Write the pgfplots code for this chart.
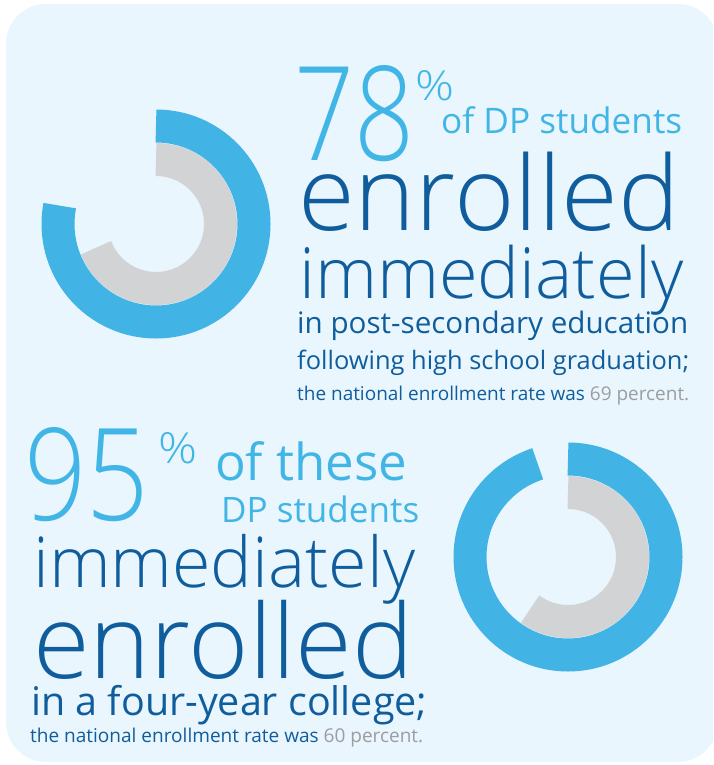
\documentclass[border=0pt]{standalone}
\usepackage{pgfplots}
\pgfplotsset{compat=1.18}
\usepackage{pgfplotstable}
\usepackage{graphicx}
\usepackage{fontspec}
\setmainfont{Open Sans}
\IfFontExistsTF{Open Sans Light}{\newfontfamily\lightfont{Open Sans Light}}{\newfontfamily\lightfont{Open Sans}}

\definecolor{bg}{RGB}{233,246,253}
\definecolor{ringblue}{RGB}{65,180,229}
\definecolor{ringgray}{RGB}{209,211,212}
\definecolor{darkblue}{RGB}{16,93,157}
\definecolor{lightblue}{RGB}{65,182,230}
\definecolor{txtgray}{RGB}{155,157,160}

% centre of each donut (px), DP share (outer ring) and national rate (inner ring), percent
\pgfplotstableread{
cx  cy  dp national
156 224 78 69
568 557 95 60
}\donuts

% one line of text: left x, baseline y, width, content
\newcommand{\txt}[4]{\node[anchor=base west, inner sep=0pt] at (axis cs:#1,#2) {\resizebox{#3pt}{!}{#4}};}
% same, with a fixed height as well (big numbers)
\newcommand{\txth}[5]{\node[anchor=base west, inner sep=0pt] at (axis cs:#1,#2) {\resizebox{#3pt}{#4pt}{#5}};}

\begin{document}
\begin{tikzpicture}
\path[use as bounding box] (0,0) rectangle (713pt,765pt);
\clip (0,0) rectangle (713pt,765pt);
\begin{axis}[
  at={(0,0)}, anchor=south west,
  scale only axis, width=713pt, height=765pt,
  xmin=0, xmax=713, ymin=0, ymax=765, y dir=reverse,
  hide axis, clip=false,
]
\fill[bg, rounded corners=40pt] (axis cs:6,4) rectangle (axis cs:718,762);

% inner ring: national rate
\addplot[scatter, only marks, mark=*, mark size=0pt,
  visualization depends on={\thisrow{national}\as\pct},
  scatter/@pre marker code/.code={\draw[ringgray, line width=33pt] (0pt,64.5pt) arc[start angle=90, delta angle=-3.6*\pct, radius=64.5pt];},
  scatter/@post marker code/.code={},
] table[x=cx, y=cy] {\donuts};

% outer ring: DP students
\addplot[scatter, only marks, mark=*, mark size=0pt,
  visualization depends on={\thisrow{dp}\as\pct},
  scatter/@pre marker code/.code={\draw[ringblue, line width=33pt] (0pt,98pt) arc[start angle=90, delta angle=-3.6*\pct, radius=98pt];},
  scatter/@post marker code/.code={},
] table[x=cx, y=cy] {\donuts};

% top block
\txth{294}{160}{120}{95}{\lightfont\color{lightblue}78}
\txth{415}{100}{39}{30}{\lightfont\color{lightblue}\%}
\txt{441}{133}{241}{\color{lightblue}of DP students}
\txt{298}{230}{381}{\lightfont\color{darkblue}enrolled}
\txt{299}{298}{384}{\lightfont\color{darkblue}immediately}
\txt{297}{333}{391}{\color{darkblue}in post-secondary education}
\txt{297}{369}{392}{\color{darkblue}following high school graduation;}
\txt{297}{400}{392}{\color{darkblue}the national enrollment rate was \color{txtgray}69 percent.}

% bottom block
\txth{24}{520}{125}{93}{\lightfont\color{lightblue}95}
\txth{158}{463}{39}{31}{\lightfont\color{lightblue}\%}
\txt{215}{480}{192}{\color{lightblue}of these}
\txt{221}{522}{198}{\color{lightblue}DP students}
\txt{33}{587}{382}{\lightfont\color{darkblue}immediately}
\txt{33}{678}{380}{\lightfont\color{darkblue}enrolled}
\txt{31}{715}{396}{\color{darkblue}in a four-year college;}
\txt{30}{742}{393}{\color{darkblue}the national enrollment rate was \color{txtgray}60 percent.}
\end{axis}
\end{tikzpicture}
\end{document}
